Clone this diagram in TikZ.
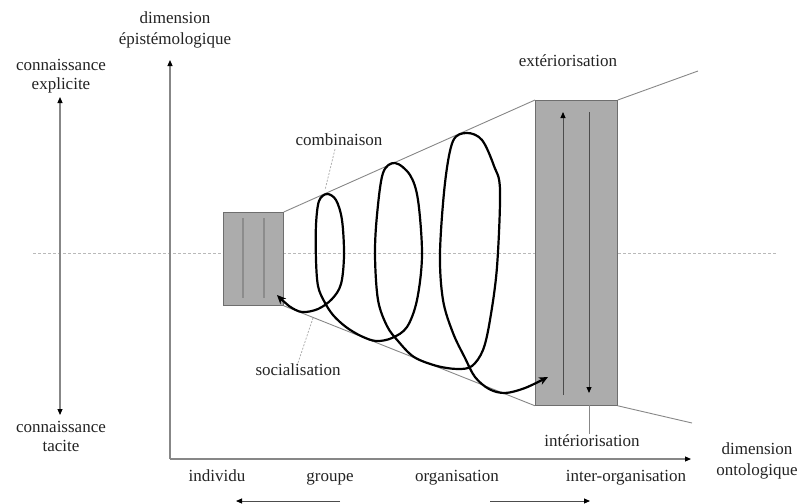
\documentclass[tikz,border=0pt]{standalone}
\usepackage{fontspec}
\setmainfont{Liberation Serif}
\usetikzlibrary{arrows.meta}
\definecolor{boxfill}{RGB}{172,172,172}
\definecolor{boxedge}{RGB}{110,110,110}
\definecolor{axisgray}{RGB}{135,135,135}
\definecolor{txt}{RGB}{35,35,35}
\definecolor{leader}{RGB}{175,175,175}
\begin{document}
\begin{tikzpicture}[x=1pt,y=-1pt,
  lbl/.style={font=\fontsize{17}{19}\selectfont, text=txt, inner sep=0pt, align=center},
  widelbl/.style={lbl, font=\fontsize{17}{21.5}\selectfont},
  word/.style={lbl, text height=12pt, text depth=4pt},
  axisline/.style={draw=axisgray, line width=1.1pt},
  tri/.style={-{Triangle[length=6pt,width=5pt,color=black]}},
  twotri/.style={{Triangle[length=6pt,width=5pt,color=black]}-{Triangle[length=6pt,width=5pt,color=black]}},
  stage/.style={draw=boxedge, line width=0.8pt, fill=boxfill, inner sep=0pt, anchor=north west},
  funnel/.style={draw=axisgray, line width=0.9pt},
  leaderline/.style={draw=leader, line width=0.8pt, dash pattern=on 2pt off 1.5pt},
  spiral/.style={line width=2.2pt, line join=round,
    {Stealth[length=9pt,width=8pt]}-{Stealth[length=9pt,width=8pt]}},
  inner/.style={draw=black!70, line width=0.9pt}
]
\useasboundingbox (0,0) rectangle (807,504);

% mid-level dotted reference line
\draw[draw=gray!55, line width=0.9pt, dash pattern=on 3pt off 2pt] (33,253) -- (777,253);

% axes
\coordinate (O) at (170,459);
\coordinate (Ytop) at (170,60);
\coordinate (Xend) at (691,459);
\draw[axisline, tri] (O) -- (Ytop);
\draw[axisline, tri] (O) -- (Xend);

% explicit / tacit scale
\coordinate (Ktop) at (60,97);
\coordinate (Kbot) at (60,415);
\draw[axisline, twotri] (Kbot) -- (Ktop);

% knowledge stages
\node[stage, minimum width=60, minimum height=93] (small) at (223,212) {};
\node[stage, minimum width=82, minimum height=305] (big) at (535,100) {};

% funnel
\coordinate (FupEnd) at (698,71);
\coordinate (FloEnd) at (692,423);
\draw[funnel] (small.north east) -- (big.north west);
\draw[funnel] (big.north east) -- (FupEnd);
\draw[funnel] (small.south east) -- (big.south west);
\draw[funnel] (big.south east) -- (FloEnd);

% lines inside the small stage
\draw[draw=black!45, line width=1.4pt] (243,218) -- (243,298);
\draw[draw=black!45, line width=1.4pt] (264,218) -- (264,298);

% externalisation / internalisation arrows
\draw[inner, tri] (563,395) -- (563,112);
\draw[inner, tri] (589,112) -- (589,393);

% knowledge spiral
\draw[spiral] plot[smooth, tension=0.55] coordinates {
  (277,295) (289,306) (302,312) (318,309) (332,299) (341,284)
  (344,255) (342,220) (336,200) (327,194) (319,201) (316,225)
  (316,260) (318,286) (324,301) (333,315) (346,327) (361,336)
  (376,341) (392,338) (407,327) (417,300) (422,255) (418,200)
  (410,175) (395,163) (383,173) (377,215) (375,255) (378,300)
  (387,326) (398,341) (414,357) (437,366) (458,369) (472,366)
  (483,350) (490,320) (497,267) (500,190) (494,166) (482,140)
  (467,133) (453,141) (445,183) (440,253) (443,300) (453,333)
  (465,358) (475,377) (489,389) (505,393) (525,388) (548,377)};

% labels
\node[widelbl] (epi) at (175,30) {dimension\\épistémologique};
\node[lbl] (expl) at (61,76) {connaissance\\explicite};
\node[lbl] (tac) at (61,436) {connaissance\\tacite};
\node[widelbl] (onto) at (757,461) {dimension\\ontologique};
\node[word] (comb) at (339,141) {combinaison};
\node[word] (ext) at (568,62) {extériorisation};
\node[word] (soc) at (298,371) {socialisation};
\node[word] (inte) at (592,442) {intériorisation};
\node[word] (ind) at (217,477) {individu};
\node[word] (grp) at (330,477) {groupe};
\node[word] (org) at (457,477) {organisation};
\node[word] (inter) at (626,477) {inter-organisation};

% label leaders
\coordinate (combPt) at (325,190);
\coordinate (socPt) at (313,318);
\coordinate (intePt) at (589,405);
\draw[leaderline] (comb.south) ++(-4,0) -- (combPt);
\draw[leaderline] (soc.north) -- (socPt);
\draw[draw=axisgray, line width=0.8pt] (intePt) -- (inte.north -| intePt);

% direction arrows under the ontological axis
\coordinate (La) at (340,501);
\coordinate (Lb) at (236,501);
\coordinate (Ra) at (490,501);
\coordinate (Rb) at (590,501);
\draw[draw=black!70, line width=0.9pt, tri] (La) -- (Lb);
\draw[draw=black!70, line width=0.9pt, tri] (Ra) -- (Rb);
\end{tikzpicture}
\end{document}
